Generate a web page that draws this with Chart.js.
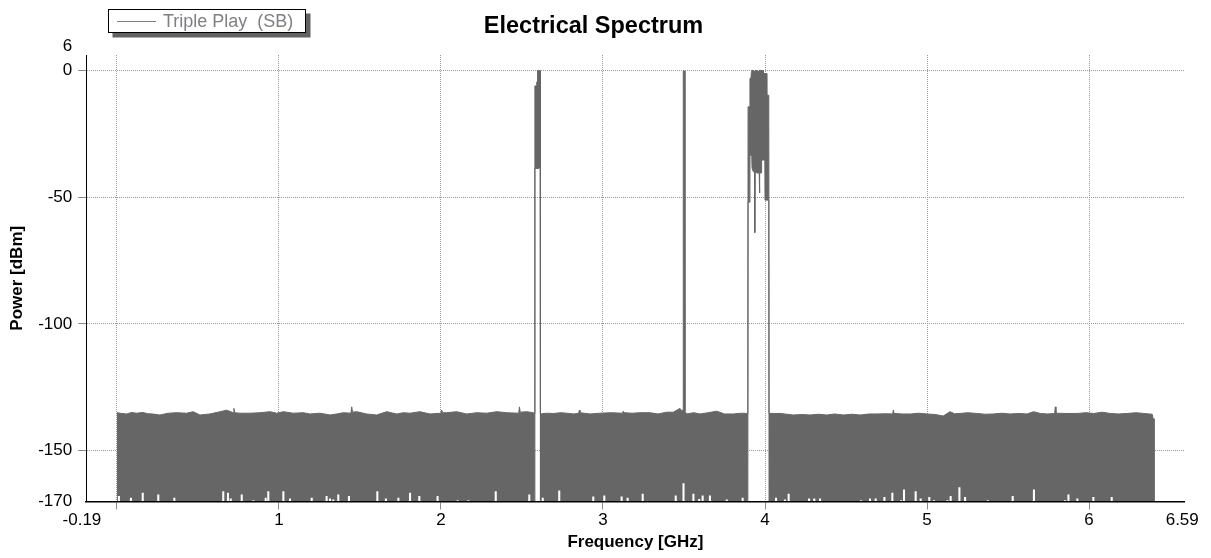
<!DOCTYPE html>
<html>
<head>
<meta charset="utf-8">
<script src="https://cdn.jsdelivr.net/npm/chart.js@4.4.0/dist/chart.umd.min.js"></script>
<style>
  html, body { margin: 0; padding: 0; background: #fff; overflow: hidden; }
</style>
</head>
<body>
<canvas id="spectrum" width="1211" height="558"></canvas>
<script>
// Axis ticks and their labels
const freqTicks = [-0.19, 0, 1, 2, 3, 4, 5, 6, 6.59];
const freqTickLabels = ['-0.19', '', '1', '2', '3', '4', '5', '6', '6.59'];
const powerTicks = [-170, -150, -100, -50, 0, 6];
const powerTickLabels = ['-170', '-150', '-100', '-50', '0', '6'];

// Upper envelope of the trace: frequency (GHz) and power (dBm)
const topFreqGHz = [
  0.000, 0.030, 0.060, 0.090, 0.120, 0.160, 0.190, 0.220, 0.265, 0.317,
  0.368, 0.430, 0.470, 0.512, 0.574, 0.636, 0.677, 0.718, 0.722, 0.727,
  0.759, 0.821, 0.883, 0.944, 0.986, 1.027, 1.088, 1.150, 1.191, 1.253,
  1.315, 1.356, 1.397, 1.444, 1.449, 1.454, 1.480, 1.541, 1.603, 1.665,
  1.727, 1.767, 1.809, 1.870, 1.932, 2.000, 2.004, 2.010, 2.035, 2.097,
  2.159, 2.220, 2.282, 2.344, 2.406, 2.480, 2.484, 2.489, 2.529, 2.570,
  2.579,
  2.5795, 2.590, 2.591, 2.595, 2.596, 2.613,
  2.614, 2.650, 2.693, 2.740, 2.776, 2.820, 2.850, 2.854, 2.858, 2.920,
  2.981, 3.050, 3.120, 3.125, 3.130, 3.180, 3.228, 3.290, 3.340, 3.393,
  3.434, 3.475, 3.487, 3.494,
  3.4955, 3.5045,
  3.506, 3.517, 3.560, 3.599, 3.650, 3.702, 3.750, 3.804, 3.850, 3.894,
  3.8955, 3.906, 3.907, 3.913, 3.916, 3.920, 3.934, 3.937, 3.941, 3.958,
  3.961, 3.964, 3.988, 3.990, 4.010, 4.011, 4.0235,
  4.025, 4.060, 4.093, 4.135, 4.175, 4.230, 4.278, 4.330, 4.381, 4.430,
  4.484, 4.540, 4.588, 4.640, 4.691, 4.750, 4.788, 4.792, 4.797, 4.850,
  4.897, 4.950, 5.000, 5.050, 5.100, 5.142, 5.170, 5.204, 5.250, 5.307,
  5.360, 5.410, 5.460, 5.513, 5.570, 5.617, 5.658, 5.700, 5.745, 5.788,
  5.792, 5.796, 5.864, 5.926, 5.980, 6.029, 6.080, 6.132, 6.180, 6.235,
  6.290, 6.338, 6.390, 6.396, 6.407
];
const topDbm = [
  -135.0, -135.3, -135.5, -134.9, -135.2, -134.9, -135.4, -135.5, -135.9, -135.2,
  -135.0, -135.2, -134.6, -135.9, -135.5, -134.6, -134.0, -135.0, -133.3, -135.0,
  -135.2, -135.2, -135.0, -134.6, -135.2, -134.6, -135.2, -135.0, -135.5, -135.2,
  -135.9, -135.5, -135.0, -135.2, -132.7, -134.8, -134.6, -135.5, -135.9, -134.6,
  -135.5, -135.0, -135.2, -134.6, -135.5, -135.2, -134.0, -135.0, -135.0, -134.6,
  -135.5, -135.0, -135.2, -134.6, -135.0, -135.2, -132.7, -134.8, -134.6, -135.0,
  -135.3,
  -6.2, -6.2, -4.6, -4.6, -0.2, -0.2,
  -135.5, -135.2, -135.3, -135.0, -135.2, -135.5, -135.2, -134.0, -135.0, -135.5,
  -135.2, -135.0, -135.2, -134.4, -135.0, -135.2, -135.0, -135.0, -135.5, -134.8,
  -134.8, -133.3, -134.2, -134.0,
  -0.3, -0.3,
  -134.5, -135.5, -135.0, -135.5, -135.0, -134.4, -135.5, -135.5, -135.2, -135.3,
  -14.4, -14.4, -3.3, -3.3, -0.8, 0.0, -0.3, -1.3, 0.0, -0.4,
  -1.8, 0.0, -0.2, -1.3, -1.3, -9.9, -9.9,
  -135.3, -135.3, -135.3, -135.6, -135.9, -135.7, -135.9, -135.6, -135.9, -135.5,
  -135.9, -135.6, -135.9, -135.5, -135.5, -135.4, -135.5, -134.0, -135.3, -135.5,
  -135.5, -135.2, -135.5, -135.7, -136.3, -134.6, -135.4, -135.3, -135.0, -135.3,
  -135.6, -135.5, -135.2, -135.5, -135.3, -135.5, -134.6, -135.3, -135.5, -135.3,
  -132.7, -135.2, -135.3, -135.3, -135.0, -135.3, -134.8, -135.3, -135.5, -135.3,
  -135.0, -135.3, -135.6, -137.4, -137.6
];

// Lower envelope of the trace
const baseFreqGHz = [
  0.000, 2.579, 2.5795, 2.605, 2.613, 2.614, 3.894, 3.8955, 3.906, 3.907,
  3.918, 3.920, 3.928, 3.935, 3.937, 3.939, 3.949, 3.964, 3.966, 3.968,
  3.978, 3.979, 3.999, 4.000, 4.0235, 4.025, 6.407
];
const baseDbm = [
  -170, -170, -38.7, -38.7, -38.0, -170, -170, -52.0, -52.0, -33.5,
  -33.5, -38.6, -40.0, -40.0, -64.0, -40.0, -40.5, -40.5, -48.4, -40.5,
  -40.5, -35.4, -35.4, -51.2, -51.2, -170, -170
];

// Bins whose minimum stays above the floor
const liftFreqGHz = [
  0.012, 0.086, 0.159, 0.255, 0.354, 0.656, 0.685, 0.702, 0.770, 0.842,
  0.918, 0.934, 1.027, 1.068, 1.202, 1.294, 1.315, 1.335, 1.366, 1.432,
  1.607, 1.660, 1.737, 1.809, 1.866, 1.979, 2.103, 2.169, 2.338, 2.545,
  2.628, 2.730, 2.940, 3.008, 3.115, 3.152, 3.245, 3.449, 3.497, 3.558,
  3.594, 3.615, 3.660, 3.764, 3.862, 4.068, 4.123, 4.146, 4.272, 4.304,
  4.340, 4.593, 4.648, 4.683, 4.737, 4.786, 4.840, 4.858, 4.930, 4.961,
  5.014, 5.043, 5.126, 5.146, 5.200, 5.235, 5.375, 5.529, 5.660, 5.852,
  5.873, 5.928, 6.027, 6.140
];
const liftDbm = [
  -168.0, -168.7, -166.7, -167.4, -168.7, -166.1, -166.7, -168.9, -167.4, -169.6,
  -168.7, -166.1, -166.1, -168.9, -168.7, -168.0, -168.9, -169.3, -167.4, -168.0,
  -166.1, -168.9, -168.7, -166.7, -168.0, -168.0, -169.6, -169.6, -166.1, -167.4,
  -168.7, -165.8, -168.2, -167.8, -168.2, -168.7, -167.1, -167.8, -162.9, -167.1,
  -169.1, -167.8, -167.8, -169.3, -168.7, -168.7, -169.3, -167.1, -168.9, -168.9,
  -168.9, -169.6, -168.9, -168.9, -168.4, -166.7, -169.6, -165.4, -166.1, -168.9,
  -168.4, -169.6, -169.6, -168.0, -164.5, -168.4, -169.6, -168.0, -165.4, -169.6,
  -167.4, -168.9, -168.4, -168.4
];

const FONT = '"Liberation Sans", Arial, Helvetica, sans-serif';
Chart.defaults.font.family = FONT;

const TRACE = '#666666';
const CLEAR = 'rgba(0,0,0,0)';

// Boxed legend with drop shadow, drawn in the top-left corner
const boxedLegend = {
  id: 'boxedLegend',
  afterDraw(chart) {
    const ds = chart.data.datasets[0];
    const ctx = chart.ctx;
    const x = 108.5, y = 9.5, w = 197, h = 23;
    ctx.save();
    ctx.fillStyle = '#626262';
    ctx.fillRect(x + 4, y + 4, w + 1, h + 1);
    ctx.fillStyle = '#ffffff';
    ctx.fillRect(x, y, w, h);
    ctx.strokeStyle = '#000000';
    ctx.lineWidth = 1;
    ctx.strokeRect(x, y, w, h);
    ctx.strokeStyle = '#808080';
    ctx.beginPath();
    ctx.moveTo(117, 21.5);
    ctx.lineTo(156, 21.5);
    ctx.stroke();
    ctx.fillStyle = '#7f7f85';
    ctx.font = '18px ' + FONT;
    ctx.textBaseline = 'middle';
    ctx.textAlign = 'left';
    ctx.fillText(ds.label, 163, 22);
    ctx.restore();
  }
};

const isEnd = (ctx, ticks) => !ctx.tick || ctx.tick.value === ticks[0] || ctx.tick.value === ticks[ticks.length - 1];

new Chart(document.getElementById('spectrum'), {
  type: 'line',
  data: {
    datasets: [
      {
        label: 'Triple Play  (SB)',
        data: topFreqGHz.map((f, i) => ({ x: f, y: topDbm[i] })),
        borderColor: TRACE,
        backgroundColor: TRACE,
        borderWidth: 1,
        pointRadius: 0,
        tension: 0,
        fill: '+1',
        order: 1
      },
      {
        label: 'Triple Play  (SB) min',
        data: baseFreqGHz.map((f, i) => ({ x: f, y: baseDbm[i] })),
        borderColor: TRACE,
        backgroundColor: TRACE,
        borderWidth: 1,
        pointRadius: 0,
        tension: 0,
        fill: false,
        order: 1
      },
      {
        type: 'bar',
        label: 'Triple Play  (SB) lifted',
        data: liftFreqGHz.map((f, i) => ({ x: f, y: [-170, liftDbm[i]] })),
        backgroundColor: '#ffffff',
        borderWidth: 0,
        barThickness: 1.4,
        order: 0
      }
    ]
  },
  options: {
    responsive: false,
    animation: false,
    devicePixelRatio: 1,
    events: [],
    layout: { padding: { left: 2.4, right: 26.4, top: 0, bottom: 0 } },
    plugins: {
      legend: { display: false },
      tooltip: { enabled: false },
      title: {
        display: true,
        text: 'Electrical Spectrum',
        color: '#000',
        font: { family: FONT, size: 23.5, weight: 'bold' },
        padding: { top: 12, bottom: 14.8 }
      }
    },
    scales: {
      x: {
        type: 'linear',
        min: -0.19,
        max: 6.59,
        offset: false,
        afterBuildTicks: s => { s.ticks = freqTicks.map(v => ({ value: v })); },
        afterFit: s => { s.height = 56.5; },
        ticks: {
          autoSkip: false,
          maxRotation: 0,
          minRotation: 0,
          padding: 1,
          color: '#000',
          font: { size: 17 },
          callback: (v, i) => {
            const t = freqTickLabels[i];
            if (i === 0) return t + '\u2002';
            if (i === freqTicks.length - 1) return t + ' ';
            return t;
          }
        },
        grid: {
          offset: false,
          color: ctx => isEnd(ctx, freqTicks) ? CLEAR : '#9a9a9a',
          tickColor: ctx => isEnd(ctx, freqTicks) ? CLEAR : '#8a8a8a',
          tickLength: 8,
          lineWidth: 1
        },
        border: { color: '#000', width: 1.5, dash: [1, 1], z: 1 },
        title: {
          display: true,
          text: 'Frequency [GHz]',
          color: '#000',
          font: { size: 17, weight: 'bold' },
          padding: { top: 0, bottom: 5.5 }
        }
      },
      y: {
        type: 'linear',
        min: -170,
        max: 6,
        afterBuildTicks: s => { s.ticks = powerTicks.map(v => ({ value: v })); },
        afterFit: s => { s.width = 83.8; },
        ticks: {
          autoSkip: false,
          padding: 6,
          color: '#000',
          font: { size: 17, lineHeight: 1.0 },
          callback: (v, i) => (i === powerTicks.length - 1 ? [powerTickLabels[i], ''] : powerTickLabels[i])
        },
        grid: {
          offset: false,
          color: ctx => isEnd(ctx, powerTicks) ? CLEAR : '#9a9a9a',
          tickColor: ctx => isEnd(ctx, powerTicks) ? CLEAR : '#8a8a8a',
          tickLength: 8,
          lineWidth: 1
        },
        border: { color: '#000', width: 1, dash: [1, 1], z: 1 },
        title: {
          display: true,
          text: 'Power [dBm]',
          color: '#000',
          font: { size: 17, weight: 'bold' },
          padding: { top: 5, bottom: 0 }
        }
      }
    }
  },
  plugins: [boxedLegend]
});
</script>
</body>
</html>
